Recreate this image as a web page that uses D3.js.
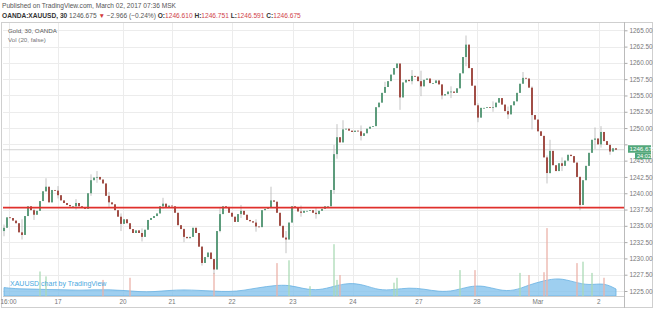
<!DOCTYPE html>
<meta charset="utf-8">
<style>
body { margin: 0; background: #fff; font-family: "Liberation Sans", Arial, sans-serif; }
.hdr { fill: #555; font-size: 6.6px; }
.axis text { fill: #777; font-size: 6.4px; }
.grid line { stroke: #ececec; stroke-width: 1; }
</style>
<body>
<script src="https://d3js.org/d3.v7.min.js"></script>
<script>

// closing prices, one per bar (left to right)
var closes = [
  1234.7,1236.3,1236.2,1235.8,1235.4,1234.0,1233.6,1236.5,1238.0,1237.4,
  1236.7,1237.3,1238.8,1240.3,1241.0,1238.6,1240.5,1240.4,1239.7,1238.9,
  1238.5,1238.2,1238.0,1238.0,1238.5,1238.0,1237.8,1237.6,1240.0,1242.0,
  1242.4,1242.5,1242.1,1241.5,1239.6,1238.6,1238.3,1237.4,1236.4,1235.3,
  1236.0,1235.4,1234.5,1233.9,1234.3,1233.9,1233.3,1234.4,1235.9,1236.2,
  1236.5,1236.9,1238.0,1238.4,1237.8,1238.1,1238.0,1237.0,1235.1,1234.5,
  1233.3,1233.1,1233.3,1234.7,1233.9,1231.8,1229.3,1230.2,1230.9,1229.9,
  1228.3,1234.2,1236.8,1238.0,1237.9,1237.0,1236.4,1235.6,1236.8,1237.3,
  1236.7,1235.9,1235.7,1235.5,1234.9,1234.8,1237.4,1237.6,1237.8,1238.9,
  1238.7,1237.0,1235.0,1233.2,1232.9,1235.5,1238.0,1237.8,1237.2,1237.0,
  1237.3,1237.3,1237.4,1237.0,1236.8,1237.3,1237.6,1238.0,1238.0,1240.5,
  1246.0,1248.6,1247.8,1249.8,1249.9,1249.6,1249.4,1249.6,1249.5,1248.8,
  1249.2,1249.9,1250.2,1250.3,1253.2,1253.9,1255.4,1256.3,1257.2,1258.2,
  1259.2,1259.9,1254.7,1257.0,1257.4,1257.2,1258.0,1257.9,1257.2,1256.4,
  1257.4,1257.6,1256.9,1256.9,1257.3,1256.7,1255.0,1255.2,1255.6,1255.6,
  1255.4,1256.1,1258.4,1260.9,1262.8,1259.2,1256.5,1253.5,1251.6,1253.1,
  1253.1,1253.2,1253.1,1253.2,1253.9,1254.6,1253.6,1252.6,1252.1,1253.5,
  1254.1,1255.4,1256.8,1257.7,1257.6,1256.2,1252.0,1251.3,1249.5,1248.8,
  1245.5,1243.1,1246.5,1244.3,1243.4,1244.6,1244.2,1245.0,1245.9,1245.7,
  1244.7,1242.5,1238.2,1242.0,1244.2,1246.2,1248.2,1248.4,1247.5,1249.4,
  1248.0,1247.4,1246.4,1246.9,1246.675
];
var firstOpen = 1234.2;

// visible wicks: [bar, high, low]
var wicks = [
  [0,1235.2,1233.4],[6,1236.0,1232.9],[10,1237.6,1235.9],[14,1242.3,1240.2],[18,1241.1,1239.2],
  [24,1239.1,1237.5],[29,1242.9,1239.6],[31,1243.4,1241.6],[35,1240.2,1237.9],[39,1236.9,1234.2],
  [46,1234.6,1232.6],[53,1239.3,1237.6],[60,1234.6,1232.5],[66,1231.9,1228.9],[70,1229.8,1227.6],
  [72,1237.9,1234.0],[79,1238.2,1236.2],[84,1236.0,1234.1],[89,1241.0,1238.2],[94,1234.2,1230.8],
  [99,1238.1,1236.4],[104,1237.8,1236.1],[110,1247.4,1239.9],[111,1250.6,1245.3],[113,1251.2,1248.9],
  [119,1250.4,1248.1],[127,1257.1,1255.6],[132,1259.9,1252.8],[136,1258.9,1256.7],[139,1258.8,1254.9],
  [146,1256.7,1254.4],[149,1256.4,1254.6],[154,1264.2,1259.5],[158,1253.8,1250.9],[163,1254.1,1252.5],
  [168,1253.3,1251.4],[173,1258.6,1256.9],[176,1256.4,1249.8],[181,1245.8,1241.5],[182,1248.2,1243.0],
  [186,1245.5,1243.4],[192,1242.6,1237.4],[197,1250.1,1246.8],[199,1250.3,1247.0],[202,1247.6,1245.9]
];

// moving average of volume, every 5th bar
var volMaBars = [0,5,10,15,20,25,30,35,40,45,50,55,60,65,70,75,80,85,90,95,100,
                 105,110,115,120,125,130,135,140,145,150,155,160,165,170,175,180,
                 185,190,195,200,204];
var volMa = [12,10,10,9,9,8,9,9,8,6,6,8,9,8,7,6,8,12,15,16,10,
             8,14,19,16,8,9,12,10,6,7,14,15,8,7,16,22,26,20,15,19,10];

// tall volume bars: [bar, volume]
var volSpikes = [
  [12,35],[14,28],[33,23],[42,26],[70,33],[91,47],[95,51],[102,14],[110,74],[111,23],
  [112,30],[130,19],[131,26],[152,37],[157,37],[172,33],[175,30],[180,34],[181,97],
  [191,47],[193,49],[196,33],[200,26]
];

var priceTicks = [1225,1227.5,1230,1232.5,1235,1237.5,1240,1242.5,1245,1247.5,
                  1250,1252.5,1255,1257.5,1260,1262.5,1265];
var dayTickBars = [1.5,18,39.7,56,76,96.3,116.3,138.3,157.7,178,198.3];
var dayTickLabels = ["16:00","17","20","21","22","23","24","27","28","Mar","2"];

var supportLevel = 1237.8;
var lastPrice = 1246.675;

var W = 654, H = 309;
var plot = {left: 3, right: 624, top: 23, bottom: 296};

var x = d3.scaleLinear().domain([0, 204]).range([4, 616]);
var y = d3.scaleLinear().domain([1225, 1265]).range([291, 30.3]);
var vy = d3.scaleLinear().domain([0, 100]).range([plot.bottom, 226]);

var svg = d3.select("body").append("svg")
    .attr("width", W).attr("height", H);

// header
svg.append("text").attr("class", "hdr").attr("x", 2).attr("y", 8)
    .text("Published on TradingView.com, March 02, 2017 07:36 MSK");
var h2 = svg.append("text").attr("class", "hdr").attr("x", 2).attr("y", 18);
h2.append("tspan").style("font-weight", "bold").attr("fill", "#333").text("OANDA:XAUUSD, 30 ");
h2.append("tspan").text("1246.675 ");
h2.append("tspan").attr("fill", "#d23c3c").text("▼");
h2.append("tspan").text(" −2.966 (−0.24%) ");
[["O:","1246.610"],["H:","1246.751"],["L:","1246.591"],["C:","1246.675"]].forEach(function(p) {
  h2.append("tspan").style("font-weight", "bold").attr("fill", "#333").text(p[0]);
  h2.append("tspan").attr("fill", "#d0434a").text(p[1] + " ");
});

// frame
svg.append("rect").attr("x", 1.5).attr("y", 22.5).attr("width", W - 3).attr("height", H - 24)
    .attr("fill", "none").attr("stroke", "#cfcfcf");

// grid
var grid = svg.append("g").attr("class", "grid");
grid.selectAll("line.h").data(priceTicks).enter().append("line")
    .attr("x1", plot.left).attr("x2", plot.right)
    .attr("y1", function(d) { return Math.round(y(d)) + 0.5; })
    .attr("y2", function(d) { return Math.round(y(d)) + 0.5; });
grid.selectAll("line.v").data(dayTickBars).enter().append("line")
    .attr("y1", plot.top).attr("y2", plot.bottom)
    .attr("x1", function(d) { return Math.round(x(d)) + 0.5; })
    .attr("x2", function(d) { return Math.round(x(d)) + 0.5; });

// legend
svg.append("text").attr("x", 8).attr("y", 33).attr("fill", "#555").style("font-size", "6.2px")
    .text("Gold, 30, OANDA");
svg.append("text").attr("x", 8).attr("y", 42).attr("fill", "#777").style("font-size", "6.2px")
    .text("Vol (20, false)");

// build candles
var candles = closes.map(function(c, i) {
  var o = i === 0 ? firstOpen : closes[i - 1];
  return {i: i, o: o, c: c, h: Math.max(o, c), l: Math.min(o, c)};
});
wicks.forEach(function(w) {
  var k = candles[w[0]];
  k.h = Math.max(k.h, w[1]); k.l = Math.min(k.l, w[2]);
});

// volume MA area
var area = d3.area().curve(d3.curveBasis)
    .x(function(d, i) { return x(volMaBars[i]); })
    .y0(plot.bottom)
    .y1(function(d) { return vy(d); });
svg.append("path").datum(volMa).attr("d", area)
    .attr("fill", "#86c3ec").attr("fill-opacity", 0.8)
    .attr("stroke", "#68b1e2").attr("stroke-width", 0.8);

// volume bars
svg.selectAll("rect.vol").data(volSpikes).enter().append("rect")
    .attr("x", function(d) { return x(d[0]) - 0.75; })
    .attr("width", 1.5)
    .attr("y", function(d) { return vy(d[1]); })
    .attr("height", function(d) { return plot.bottom - vy(d[1]); })
    .attr("fill", function(d) { return candles[d[0]].c >= candles[d[0]].o ? "#a9d9b4" : "#ebb0a8"; })
    .attr("opacity", 0.85);

// watermark
svg.append("text").attr("x", 10).attr("y", 286).attr("fill", "#4aa8e0")
    .style("font-size", "7px").text("XAUUSD chart by TradingView");

// last price line
svg.append("line").attr("x1", plot.left).attr("x2", plot.right)
    .attr("y1", y(lastPrice)).attr("y2", y(lastPrice))
    .attr("stroke", "#c8c8c8").attr("stroke-width", 0.8);

// candles
var cg = svg.append("g");
cg.selectAll("line").data(candles).enter().append("line")
    .attr("x1", function(d) { return x(d.i); }).attr("x2", function(d) { return x(d.i); })
    .attr("y1", function(d) { return y(d.h); }).attr("y2", function(d) { return y(d.l); })
    .attr("stroke", "#b4b4b4").attr("stroke-width", 0.8);
cg.selectAll("rect").data(candles).enter().append("rect")
    .attr("x", function(d) { return x(d.i) - 0.9; })
    .attr("width", 1.8)
    .attr("y", function(d) { return y(Math.max(d.o, d.c)); })
    .attr("height", function(d) { return Math.max(0.8, Math.abs(y(d.o) - y(d.c))); })
    .attr("fill", function(d) { return d.c >= d.o ? "#4f9572" : "#9b3f36"; });

// support line
svg.append("line").attr("x1", plot.left).attr("x2", plot.right)
    .attr("y1", y(supportLevel)).attr("y2", y(supportLevel))
    .attr("stroke", "#e0302c").attr("stroke-width", 1.8);

// price axis (label under the last-price box is hidden, as in the original)
svg.append("line").attr("x1", plot.right + 0.5).attr("x2", plot.right + 0.5)
    .attr("y1", 22).attr("y2", H - 1).attr("stroke", "#bbb");
var py = svg.append("g").attr("class", "axis")
    .attr("transform", "translate(" + (plot.right + 0.5) + ",0)")
    .call(d3.axisRight(y).tickValues(priceTicks).tickSize(3).tickPadding(2)
      .tickFormat(function(d) { return d === 1247.5 ? "" : d3.format(".2f")(d); }));
py.select(".domain").remove();
py.selectAll(".tick line").attr("stroke", "#aaa");

// last price label and bar countdown
var ly = y(lastPrice);
svg.append("rect").attr("x", 628).attr("y", ly - 4.5).attr("width", 23).attr("height", 7.5)
    .attr("fill", "#53a77a");
svg.append("text").attr("x", 629.5).attr("y", ly + 1.5).attr("fill", "#fff")
    .style("font-size", "6.2px").text("1246.675");
svg.append("rect").attr("x", 635).attr("y", ly + 3).attr("width", 16).attr("height", 6.5)
    .attr("fill", "#53a77a");
svg.append("text").attr("x", 637).attr("y", ly + 8).attr("fill", "#fff")
    .style("font-size", "5.6px").text("24:02");

// time axis
svg.append("line").attr("x1", plot.left).attr("x2", plot.right)
    .attr("y1", plot.bottom + 0.5).attr("y2", plot.bottom + 0.5).attr("stroke", "#ccc");
svg.selectAll("text.day").data(dayTickBars).enter().append("text")
    .attr("x", function(d) { return x(d); })
    .attr("y", 304)
    .attr("text-anchor", "middle")
    .attr("fill", "#777").style("font-size", "6.4px")
    .text(function(d, i) { return dayTickLabels[i]; });

</script>
</body>
